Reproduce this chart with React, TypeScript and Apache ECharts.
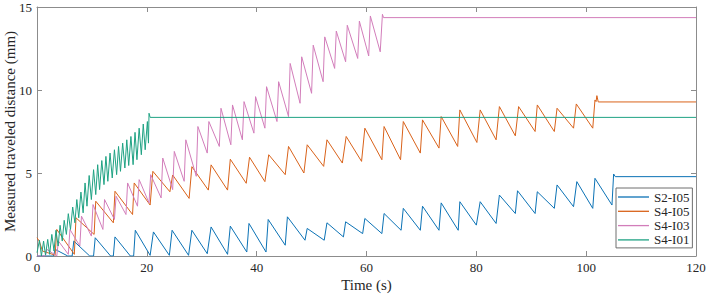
import React, { useEffect, useRef } from "react";
import * as echarts from "echarts";

// Series data: [time (s), measured traveled distance (mm)]
const seriesNames = ["S2-I05", "S4-I05", "S4-I03", "S4-I01"];
const seriesColors = ["#0B72B5", "#D9621A", "#D27DBA", "#1FA283"];

const s2i05: [number, number][] = [
  [0, 0], [3.0, 0], [3.3, 0.4], [5.6, 0], [6.4, 0], [6.7, 0.9], [9.6, 0], [10.3, 0], [10.6, 1.1],
  [13.4, 0], [13.9, 0], [14.2, 1.15], [17.0, 0], [17.6, 0], [17.9, 1.55], [20.6, 0.04], [21.2, 1.45],
  [24.1, 0.04], [24.6, 1.55], [27.6, 0.04], [28.2, 1.55], [31.0, 0.14], [31.7, 1.75], [34.7, 0.1],
  [35.2, 1.8], [38.2, 0.24], [38.6, 1.96], [41.7, 0.24], [42.1, 2.2], [45.2, 0.65], [45.6, 2.36],
  [48.8, 0.95], [49.2, 1.66], [52.3, 0.95], [52.8, 2.0], [55.8, 1.15], [56.2, 2.06], [59.3, 1.35],
  [59.7, 2.26], [62.8, 1.35], [63.2, 2.56], [66.3, 1.55], [66.7, 2.87], [69.8, 1.55], [70.2, 3.0],
  [73.2, 1.55], [73.6, 3.2], [76.7, 1.55], [77.0, 3.27], [80.0, 1.86], [80.7, 3.27], [83.6, 1.96],
  [84.2, 3.67], [87.1, 2.56], [87.5, 3.93], [90.7, 2.56], [91.1, 3.87], [94.2, 2.87], [94.7, 4.28],
  [97.7, 2.97], [98.3, 4.48], [101.2, 2.87], [101.6, 4.68], [104.7, 3.07], [105.0, 4.94], [105.3, 4.78],
  [120, 4.78],
];

const s4i05: [number, number][] = [
  [0, 1.1], [0.4, 0.9], [1.0, 0.3], [3.3, 0.05], [3.6, 1.6], [6.8, 0.1], [7.1, 2.3], [10.4, 1.3],
  [10.7, 3.3], [13.9, 2.0], [14.2, 3.9], [17.4, 2.5], [17.7, 4.4], [20.6, 3.07], [21.1, 5.1],
  [24.2, 3.87], [24.7, 4.88], [27.7, 3.47], [28.2, 5.38], [31.2, 3.97], [31.7, 5.49], [34.7, 3.97],
  [35.2, 5.83], [38.1, 4.38], [38.7, 5.95], [41.5, 4.48], [42.2, 6.1], [45.2, 4.9], [45.8, 6.6],
  [48.6, 5.0], [49.2, 6.7], [52.2, 5.4], [52.8, 7.0], [55.6, 5.6], [56.3, 7.2], [59.1, 5.7],
  [59.7, 7.7], [62.8, 5.8], [63.2, 7.8], [66.2, 5.8], [66.7, 8.1], [69.8, 6.2], [70.2, 8.2],
  [73.2, 6.5], [73.6, 8.4], [76.6, 6.6], [77.0, 8.8], [80.1, 6.84], [80.7, 8.8], [83.6, 7.0],
  [84.2, 9.0], [87.1, 7.24], [87.7, 9.0], [90.7, 7.5], [91.1, 9.1], [94.2, 7.5], [94.7, 8.9],
  [97.7, 7.7], [98.2, 9.16], [101.2, 7.7], [101.6, 9.4], [101.8, 9.3], [101.95, 9.66], [102.2, 9.28],
  [120, 9.28],
];

const s4i03: [number, number][] = [
  [0, 0], [1.5, 0], [1.8, 0.4], [3.6, 0], [3.9, 0.9], [5.7, 0.1], [6.0, 1.6], [7.8, 0.6], [8.1, 2.4],
  [9.9, 1.2], [10.2, 3.1], [12.0, 1.6], [12.3, 3.4], [14.1, 2.2], [14.4, 3.6], [16.2, 2.5], [16.5, 4.4],
  [18.3, 3.0], [18.6, 4.6], [20.4, 3.2], [20.7, 4.9], [22.6, 3.5], [22.9, 5.9], [24.7, 4.0], [25.0, 6.3],
  [26.8, 4.5], [27.1, 7.0], [29.0, 4.8], [29.3, 7.8], [31.0, 6.2], [31.3, 8.1], [33.2, 6.6], [33.5, 8.9],
  [35.3, 6.7], [35.6, 9.1], [37.4, 7.0], [37.7, 9.3], [39.5, 7.4], [39.8, 9.6], [41.5, 7.7], [41.8, 10.2],
  [43.7, 8.1], [44.0, 10.5], [45.8, 8.4], [46.1, 11.6], [47.9, 9.2], [48.2, 12.0], [50.0, 9.8],
  [50.3, 12.7], [52.1, 10.5], [52.4, 13.2], [54.2, 11.3], [54.5, 13.55], [56.2, 11.7], [56.5, 13.9],
  [58.4, 11.9], [58.7, 14.15], [60.4, 12.05], [60.7, 14.46], [62.5, 12.3], [62.9, 14.56], [63.1, 14.36],
  [120, 14.36],
];

const s4i01: [number, number][] = [
  [0, 0.2], [0.45, 0.95], [0.8, 0], [1.2, 0.9], [1.55, 0.05], [1.95, 1.0], [2.3, 0.1], [2.7, 1.3],
  [3.1, 0.3], [3.45, 1.55], [3.85, 0.6], [4.2, 1.85], [4.6, 0.9], [4.95, 2.15], [5.35, 1.3], [5.7, 2.55],
  [6.1, 1.6], [6.5, 2.95], [6.9, 2.0], [7.25, 3.4], [7.6, 2.3], [8.0, 3.85], [8.4, 2.6], [8.75, 4.4],
  [9.1, 3.0], [9.5, 4.85], [9.9, 3.4], [10.3, 5.2], [10.7, 3.7], [11.05, 5.5], [11.4, 4.0], [11.8, 5.75],
  [12.2, 4.3], [12.55, 6.0], [12.9, 4.5], [13.3, 6.2], [13.7, 4.7], [14.1, 6.4], [14.5, 4.9], [14.85, 6.6],
  [15.2, 5.1], [15.6, 6.8], [16.0, 5.3], [16.35, 7.0], [16.7, 5.45], [17.1, 7.2], [17.5, 5.5], [17.85, 7.45],
  [18.2, 5.8], [18.6, 7.7], [19.0, 6.1], [19.35, 7.95], [19.7, 6.4], [20.1, 8.1], [20.3, 6.8], [20.4, 8.6],
  [20.6, 8.35], [120, 8.35],
];

const seriesData = [s2i05, s4i05, s4i03, s4i01];

const xMin = 0;
const xMax = 120;
const xStep = 20;
const yMin = 0;
const yMax = 15;
const yStep = 5;
const xTitle = "Time (s)";
const yTitle = "Measured traveled distance (mm)";

const FONT = "Liberation Serif";
const AXIS_COLOR = "#8c8c8c";
const TEXT_COLOR = "#262626";

export default function App() {
  const ref = useRef<HTMLDivElement>(null);

  useEffect(() => {
    document.body.style.margin = "0";
    if (!ref.current) return;
    const chart = echarts.init(ref.current, null, { renderer: "svg" });

    const baseAxis = {
      type: "value" as const,
      splitLine: { show: false },
      axisLine: { show: true, onZero: false, lineStyle: { color: AXIS_COLOR, width: 1 } },
      axisTick: { show: true, inside: true, length: 5, lineStyle: { color: AXIS_COLOR, width: 1 } },
    };

    chart.setOption({
      animation: false,
      backgroundColor: "#ffffff",
      grid: { left: 37, right: 11, top: 7, bottom: 41, containLabel: false, outerBoundsMode: "none" },
      legend: {
        data: seriesNames,
        orient: "vertical",
        left: 616,
        top: 188,
        padding: [2, 3, 1, 2],
        itemWidth: 31,
        itemHeight: 1.3,
        itemGap: 0.3,
        itemTextGap: 2,
        icon: "rect",
        backgroundColor: "#ffffff",
        borderColor: "#6e6e6e",
        borderWidth: 1,
        borderRadius: 0,
        textStyle: { fontFamily: FONT, fontSize: 13, color: TEXT_COLOR, lineHeight: 14 },
      },
      xAxis: [
        {
          ...baseAxis,
          position: "bottom",
          min: xMin,
          max: xMax,
          interval: xStep,
          name: xTitle,
          nameLocation: "middle",
          nameGap: 21,
          nameMoveOverlap: false,
          nameTextStyle: { fontFamily: FONT, fontSize: 15, color: TEXT_COLOR },
          axisLabel: { show: true, margin: 5, fontFamily: FONT, fontSize: 13, color: TEXT_COLOR },
        },
        {
          ...baseAxis,
          position: "top",
          min: xMin,
          max: xMax,
          interval: xStep,
          axisLabel: { show: false },
        },
      ],
      yAxis: [
        {
          ...baseAxis,
          position: "left",
          min: yMin,
          max: yMax,
          interval: yStep,
          name: yTitle,
          nameLocation: "middle",
          nameGap: 20,
          nameMoveOverlap: false,
          nameRotate: 90,
          nameTextStyle: { fontFamily: FONT, fontSize: 15, color: TEXT_COLOR },
          axisLabel: { show: true, margin: 5, fontFamily: FONT, fontSize: 13, color: TEXT_COLOR },
        },
        {
          ...baseAxis,
          position: "right",
          min: yMin,
          max: yMax,
          interval: yStep,
          axisLabel: { show: false },
        },
      ],
      series: seriesNames.map((name, i) => ({
        name,
        type: "line",
        xAxisIndex: 0,
        yAxisIndex: 0,
        data: seriesData[i],
        showSymbol: false,
        symbol: "none",
        color: seriesColors[i],
        lineStyle: { color: seriesColors[i], width: 1 },
        itemStyle: { color: seriesColors[i] },
        emphasis: { disabled: true },
      })),
    });

    return () => {
      chart.dispose();
    };
  }, []);

  return <div ref={ref} style={{ width: 707, height: 297 }} />;
}
